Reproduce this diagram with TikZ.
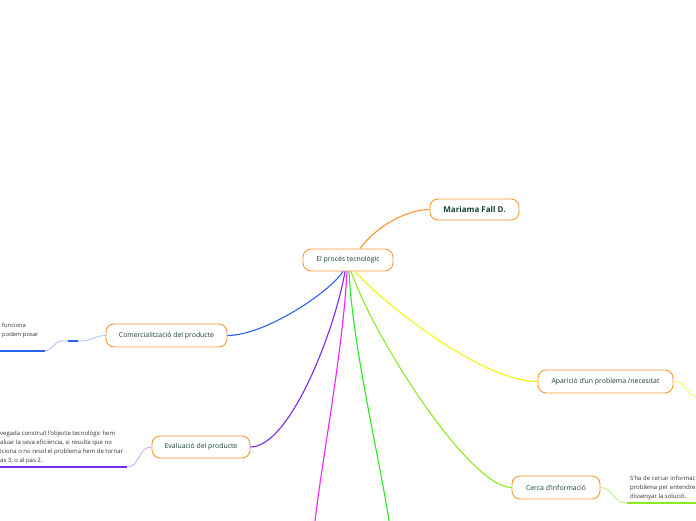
\documentclass[tikz,border=0pt]{standalone}
\usepackage{fontspec}
\setmainfont{Open Sans}
\usetikzlibrary{calc}
\definecolor{borange}{RGB}{245,150,50}
\definecolor{tgreen}{RGB}{25,65,50}
\definecolor{cblue}{RGB}{40,100,240}
\definecolor{cpurple}{RGB}{120,40,240}
\definecolor{cmag}{RGB}{250,30,250}
\definecolor{cgreen}{RGB}{40,235,30}
\definecolor{cchart}{RGB}{140,235,30}
\definecolor{cyellow}{RGB}{245,245,10}
\definecolor{ctext}{RGB}{50,50,50}
\tikzset{
  topic/.style={draw=borange, line width=0.9pt, fill=white, rounded corners=8pt,
    text=tgreen, font=\fontsize{6.9}{8}\selectfont, inner sep=0pt, align=center},
  branch/.style={line width=1.1pt},
  under/.style={line width=1.8pt},
  note/.style={anchor=west, text=ctext, font=\fontsize{6}{9.2}\selectfont, align=left, inner sep=0pt},
}
\begin{document}
\begin{tikzpicture}[x=1pt,y=-1pt]
\useasboundingbox (0,0) rectangle (696,520);
% nodes
\node[topic, minimum width=90pt, minimum height=22pt] (c) at (348,260) {El procés tecnològic};
\node[topic, minimum width=89pt, minimum height=21pt, font=\fontsize{8}{9}\selectfont\bfseries] (m) at (474.5,209.5) {Mariama Fall D.};
\node[topic, minimum width=121pt, minimum height=23pt] (com) at (166.5,335.5) {Comercialització del producte};
\node[topic, minimum width=98pt, minimum height=22pt] (ev) at (201,447) {Evaluació del producte};
\node[topic, minimum width=135pt, minimum height=23pt] (ap) at (605.5,381.5) {Aparició d'un problema /necesitat};
\node[topic, minimum width=88pt, minimum height=23pt] (ce) at (556,487.5) {Cerca d'informació};
% free ends
\coordinate (magend) at (315,521);
\coordinate (grnend) at (389,521);
\coordinate (comend) at (0,351);
\coordinate (evend) at (0,467);
\coordinate (ceend) at (697,503);
\coordinate (apend) at (697,397);
% main connectors
\draw[branch, borange] ($(c.north)+(12,0)$) .. controls (375,228) and (405,209.5) .. (m.west);
\draw[branch, cblue] ($(c.south)+(-5,0)$) .. controls (330,292) and (265,335.5) .. (com.east);
\draw[branch, cpurple] ($(c.south)+(-3,0)$) .. controls (335,330) and (290,447) .. (ev.east);
\draw[branch, cmag] ($(c.south)+(-1,0)$) .. controls (343,350) and (322,460) .. (magend);
\draw[branch, cgreen] ($(c.south)+(1,0)$) .. controls (353,350) and (380,460) .. (grnend);
\draw[branch, cchart] ($(c.south)+(3,0)$) .. controls (375,340) and (470,487.5) .. (ce.west);
\draw[branch, cyellow] ($(c.south)+(7,0)$) .. controls (380,300) and (480,381.5) .. (ap.west);
% sub-branches
\draw[line width=0.7pt, cblue!45] (com.west) .. controls (95,335.5) and (92,341) .. (80,341) -- (62,341) .. controls (54,341) and (52,351) .. (45,351);
\draw[line width=1.4pt, cblue] (68,341) -- (78,341);
\draw[under, cblue] (45,351) -- (comend);
\draw[line width=0.7pt, cpurple!45] (ev.west) .. controls (138,447) and (140,467) .. (127,467);
\draw[under, cpurple] (127,467) -- (evend);
\draw[line width=0.7pt, cchart!70] (ce.east) .. controls (614,487.5) and (612,503) .. (627,503);
\draw[under, cchart] (627,503) -- (ceend);
\draw[line width=0.7pt, cyellow!80] (ap.east) .. controls (688,381.5) and (685,395) .. (apend);
% notes
\node[note, font=\fontsize{5.8}{9}\selectfont] (n1) at (2,330.5) {funciona\\podem posar};
\node[note] (n2) at (0,447.5) {vegada construït l'objecte tecnològic hem\\aluar la seva eficiència, si resulta que no\\iciona o no resol el problema hem de tornar\\as 3, o al pas 2.};
\node[note] (n3) at (630,488) {S'ha de cercar informac\\problema per  entendre\\dissenyar la solució.};
\end{tikzpicture}
\end{document}
